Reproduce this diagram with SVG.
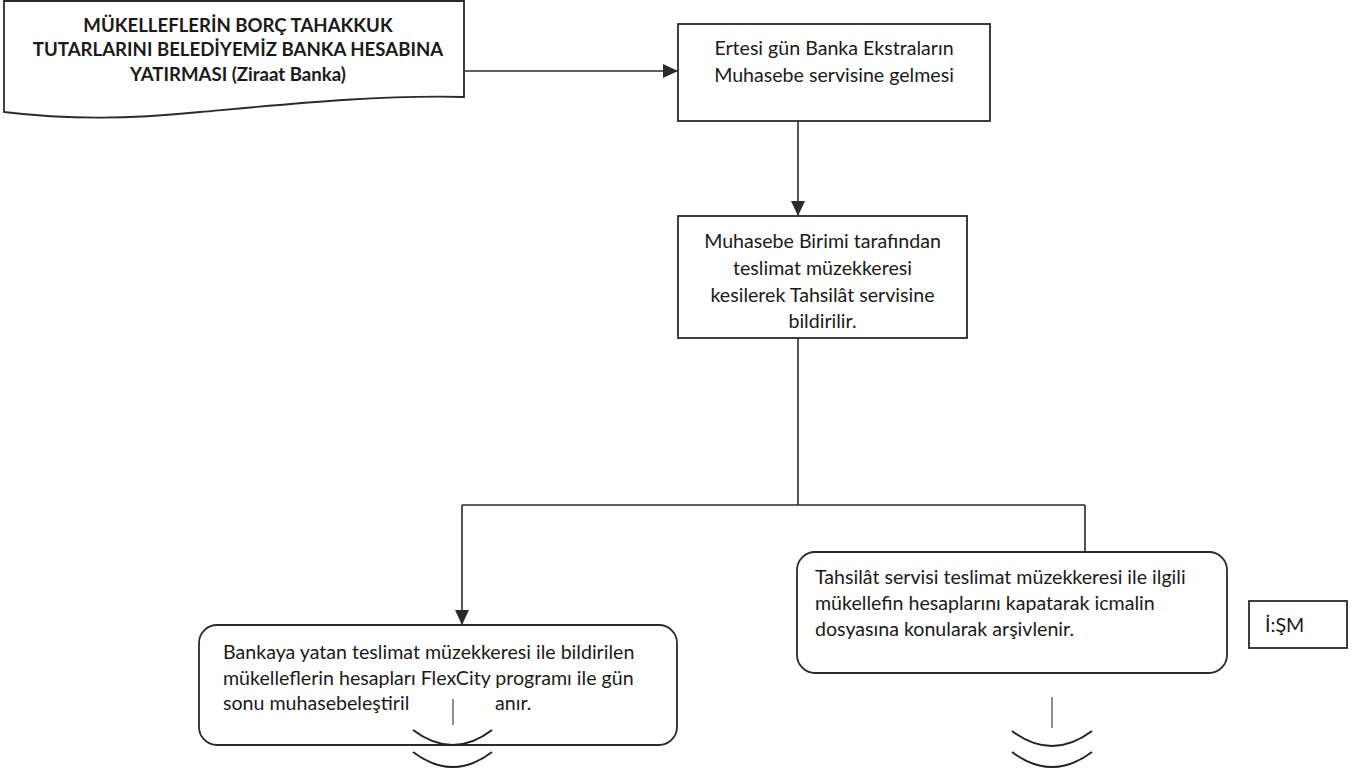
<svg xmlns="http://www.w3.org/2000/svg" width="1359" height="772" viewBox="0 0 1359 772">
<defs>
<marker id="ah" markerUnits="userSpaceOnUse" markerWidth="16" markerHeight="14" refX="15" refY="7" orient="auto">
<path d="M0,0 L15,7 L0,14 Z" fill="#2a2a2a"/>
</marker>
<style>
.shape{fill:#fff;stroke:#2a2a2a;stroke-width:1.8}
.conn{fill:none;stroke:#2a2a2a;stroke-width:1.6}
.thin{fill:none;stroke:#333;stroke-width:1.1}
.curve{fill:none;stroke:#222;stroke-width:2}
.t{font-family:Lato,"Liberation Sans",sans-serif;font-size:19.6px;fill:#1a1a1a}
.b{font-family:Lato,"Liberation Sans",sans-serif;font-size:18.6px;font-weight:bold;fill:#1a1a1a}
.c{text-anchor:middle}
</style>
</defs>
<rect width="1359" height="772" fill="#fff"/>
<g id="connectors">
<path class="conn" d="M464,71 H678" marker-end="url(#ah)"/>
<path class="conn" d="M798,121 V216" marker-end="url(#ah)"/>
<path class="conn" d="M798,338 V505"/>
<path class="conn" d="M462,505 H1085"/>
<path class="conn" d="M462,505 V625" marker-end="url(#ah)"/>
<path class="conn" d="M1085,505 V552"/>
</g>
<g id="node-start">
<path class="shape" d="M4,1 H464 V97 C380,95 300,103 200,112 C130,119 70,120 4,112 Z"/>
<text class="b c" x="238" y="32">MÜKELLEFLERİN BORÇ TAHAKKUK</text>
<text class="b c" x="238" y="56">TUTARLARINI BELEDİYEMİZ BANKA HESABINA</text>
<text class="b c" x="238" y="81">YATIRMASI (Ziraat Banka)</text>
</g>
<g id="node-ekstre">
<rect class="shape" x="678" y="24" width="312" height="97"/>
<text class="t c" x="834" y="55">Ertesi gün Banka Ekstraların</text>
<text class="t c" x="834" y="82">Muhasebe servisine gelmesi</text>
</g>
<g id="node-muhasebe">
<rect class="shape" x="678" y="216" width="289" height="122"/>
<text class="t c" x="822.5" y="248">Muhasebe Birimi tarafından</text>
<text class="t c" x="822.5" y="275">teslimat müzekkeresi</text>
<text class="t c" x="822.5" y="302">kesilerek Tahsilât servisine</text>
<text class="t c" x="822.5" y="328">bildirilir.</text>
</g>
<g id="node-flexcity">
<rect class="shape" x="199" y="625" width="478" height="120" rx="18"/>
<text class="t" x="223" y="659">Bankaya yatan teslimat müzekkeresi ile bildirilen</text>
<text class="t" x="223" y="685">mükelleflerin hesapları FlexCity programı ile gün</text>
<text class="t" x="223" y="710">sonu muhasebeleştiril</text>
<text class="t" x="495" y="710">anır.</text>
</g>
<g id="node-tahsilat">
<rect class="shape" x="797" y="552" width="430" height="121" rx="18"/>
<text class="t" x="815" y="584">Tahsilât servisi teslimat müzekkeresi ile ilgili</text>
<text class="t" x="815" y="610">mükellefin hesaplarını kapatarak icmalin</text>
<text class="t" x="815" y="636">dosyasına konularak arşivlenir.</text>
</g>
<g id="node-ism">
<rect class="shape" x="1249" y="601" width="98" height="47"/>
<text class="t" x="1265" y="632">İ:ŞM</text>
</g>
<g id="break-left">
<path class="thin" d="M453,699 V725"/>
<path class="curve" d="M413,730 Q453,760 492,730"/>
<path class="curve" d="M413,752 Q453,782 492,752"/>
</g>
<g id="break-right">
<path class="thin" d="M1052,697 V728"/>
<path class="curve" d="M1012,731 Q1052,761 1092,731"/>
<path class="curve" d="M1012,752 Q1052,782 1092,752"/>
</g>
</svg>
